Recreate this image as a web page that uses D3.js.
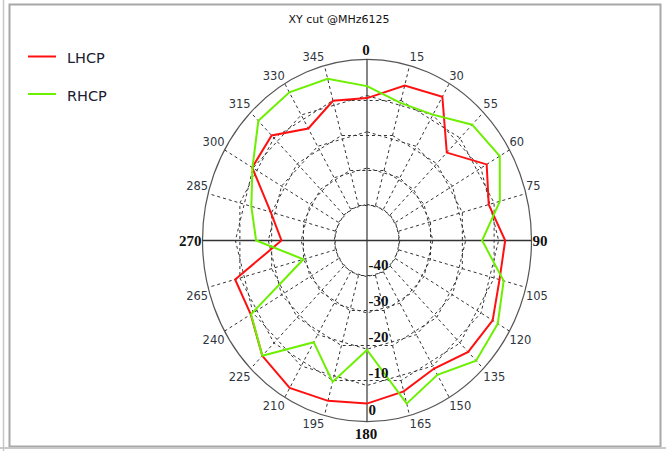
<!DOCTYPE html>
<html>
<head>
<meta charset="utf-8">
<script src="https://cdn.jsdelivr.net/npm/d3@7"></script>
<style>
html,body{margin:0;padding:0;background:#fff;}
svg{display:block;}
</style>
</head>
<body>
<svg id="chart" width="666" height="451"></svg>
<script>
// ---- data ----
const title = "XY cut @MHz6125";
const seriesNames = ["LHCP", "RHCP"];
const seriesColors = ["#ff1010", "#6cf000"];
const angles = [0,15,30,45,60,75,90,105,120,135,150,165,180,195,210,225,240,255,270,285,300,315,330,345];
const lhcp = [-10.7,-5.7,-4.2,-15.7,-8.0,-11.7,-8.0,-8.3,-5.9,-6.5,-9.2,-6.9,-5.0,-4.2,-3.0,-5.0,-9.2,-8.5,-24.0,-19.7,-9.7,-9.0,-14.3,-10.1];
const rhcp = [-7.4,-10.7,-9.9,-4.8,-3.4,-8.2,-15.0,-7.0,-4.1,-3.1,-7.2,-3.4,-19.8,-9.6,-17.6,-5.0,-9.3,-30.0,-16.3,-13.6,-9.8,-3.3,-2.8,-3.8];
const angleLabels = ["0","15","30","55","60","75","90","105","120","135","150","165","180","195","210","225","240","265","270","285","300","315","330","345"];
const ringValues = [-40,-30,-20,-10,0];
const ringLabels = ["-40","-30","-20","-10","0"];
const rMin = -50, rMax = 0;

// ---- layout ----
const svg = d3.select("#chart");
const cx = 367, cy = 240.5, rx = 164.5, ry = 181.2;

const aScale = d3.scaleLinear().domain([0,360]).range([0, 2*Math.PI]);
const rScale = d3.scaleLinear().domain([rMin, rMax]).range([0, 1]);
const px = (a, v) => cx + rx * rScale(v) * Math.sin(aScale(a));
const py = (a, v) => cy - ry * rScale(v) * Math.cos(aScale(a));

// frame
svg.append("line").attr("x1",3.5).attr("x2",3.5).attr("y1",0).attr("y2",451).attr("stroke","#c8c8c8").attr("stroke-width",1.5);
svg.append("rect").attr("x",9.5).attr("y",4.5).attr("width",651).attr("height",442)
  .attr("fill","none").attr("stroke","#a8a8a8").attr("stroke-width",2);
svg.append("line").attr("x1",0).attr("x2",666).attr("y1",448).attr("y2",448).attr("stroke","#c8c8c8").attr("stroke-width",2);

// title
svg.append("text").attr("x",339).attr("y",23).attr("text-anchor","middle")
  .attr("font-family","DejaVu Sans, sans-serif").attr("font-size",11).attr("fill","#111").text(title);

const grid = svg.append("g");

// rings: drawn as two interleaved 12-gons per ring (every other 15° spoke)
const ringLine = d3.line().x(d => px(d.a, d.v)).y(d => py(d.a, d.v)).curve(d3.curveLinearClosed);
ringValues.slice(0, 4).forEach(v => {
  [0, 15].forEach(off => {
    const pts = d3.range(off, 360, 30).map(a => ({a, v}));
    grid.append("path").attr("d", ringLine(pts)).attr("fill","none")
      .attr("stroke","#333").attr("stroke-width",1).attr("stroke-dasharray","3,3");
  });
});

// spokes (dashed) from first ring to outer ring
angles.filter(a => a % 90 !== 0).forEach(a => {
  grid.append("line")
    .attr("x1", px(a, ringValues[0])).attr("y1", py(a, ringValues[0]))
    .attr("x2", px(a, rMax)).attr("y2", py(a, rMax))
    .attr("stroke","#333").attr("stroke-width",1).attr("stroke-dasharray","3,3");
});

// outer ring
grid.append("ellipse").attr("cx",cx).attr("cy",cy).attr("rx",rx).attr("ry",ry)
  .attr("fill","none").attr("stroke","#555").attr("stroke-width",1.2);

// axes
grid.append("line").attr("x1",px(0,rMax)).attr("y1",py(0,rMax)).attr("x2",px(180,rMax)).attr("y2",py(180,rMax))
  .attr("stroke","#444").attr("stroke-width",1.3);
grid.append("line").attr("x1",px(270,rMax)).attr("y1",py(270,rMax)).attr("x2",px(90,rMax)).attr("y2",py(90,rMax))
  .attr("stroke","#333").attr("stroke-width",1.3);

// series
const seriesLine = d3.line().x(d => px(d.a, d.v)).y(d => py(d.a, d.v)).curve(d3.curveLinearClosed);
[lhcp, rhcp].forEach((vals, i) => {
  const pts = angles.map((a, j) => ({a, v: vals[j]}));
  svg.append("path").attr("d", seriesLine(pts)).attr("fill","none")
    .attr("stroke", seriesColors[i]).attr("stroke-width",2).attr("stroke-linejoin","miter");
});

// radial tick labels
ringValues.forEach((v, i) => {
  svg.append("text").attr("x", cx + 1.5).attr("y", py(180, v) - 7)
    .attr("font-family","Liberation Serif, serif").attr("font-weight","bold").attr("font-size",15)
    .attr("fill","#111").text(ringLabels[i]);
});

// angle labels
angles.forEach((a, i) => {
  const major = a % 90 === 0;
  const x0 = px(a, rMax), y0 = py(a, rMax);
  const t = svg.append("text").text(angleLabels[i]);
  if (major) {
    t.attr("font-family","Liberation Serif, serif").attr("font-weight","bold").attr("font-size",15).attr("fill","#111");
    if (a === 0) t.attr("x", x0 - 1).attr("y", y0 - 4).attr("text-anchor","middle");
    else if (a === 180) t.attr("x", x0 - 1).attr("y", y0 + 17).attr("text-anchor","middle");
    else if (a === 90) t.attr("x", x0 + 1).attr("y", y0 + 5.5).attr("text-anchor","start");
    else t.attr("x", x0 - 1).attr("y", y0 + 5.5).attr("text-anchor","end");
  } else {
    t.attr("font-family","DejaVu Sans, sans-serif").attr("font-size",11.5).attr("fill","#2f3640");
    const right = a < 180;
    const upper = (a < 90 || a > 270);
    t.attr("x", x0 + (right ? 0 : 0)).attr("text-anchor", right ? "start" : "end")
     .attr("y", upper ? y0 - 4 : y0 + 12.5);
  }
});

// legend
seriesNames.forEach((name, i) => {
  const y = 56.5 + i * 37.5;
  svg.append("line").attr("x1",28).attr("x2",56).attr("y1",y).attr("y2",y)
    .attr("stroke", seriesColors[i]).attr("stroke-width",2);
  svg.append("text").attr("x",67).attr("y",y + 6.5)
    .attr("font-family","DejaVu Sans, sans-serif").attr("font-size",14.5).attr("fill","#1a2030").text(name);
});
</script>
</body>
</html>
